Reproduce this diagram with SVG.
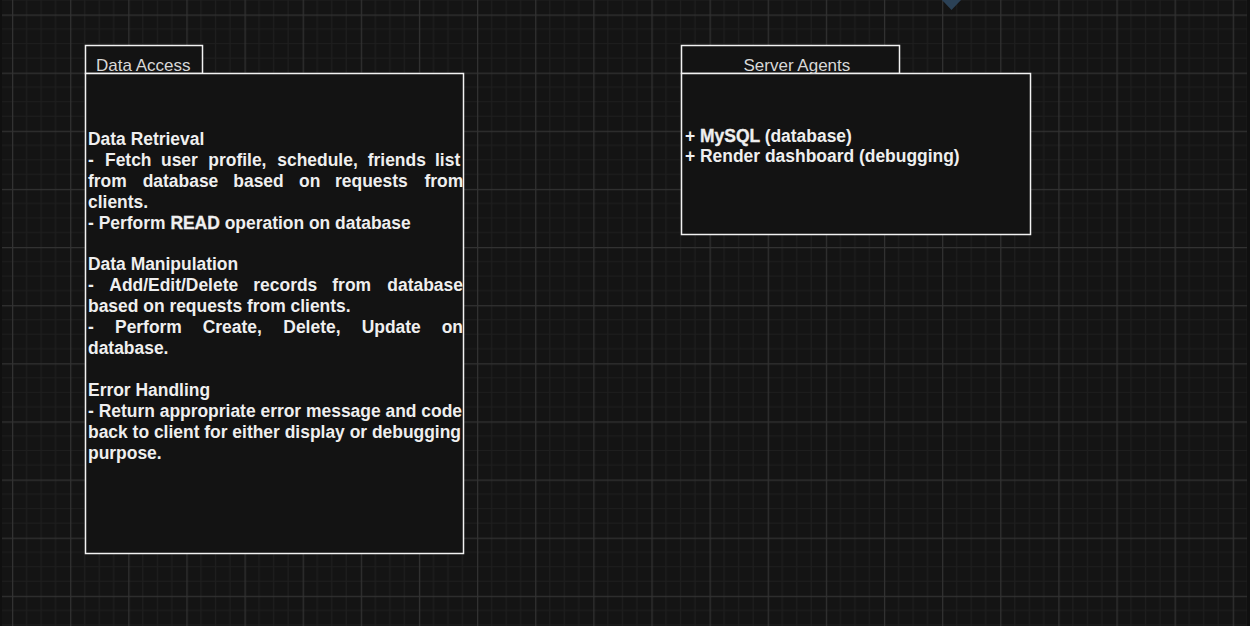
<svg xmlns="http://www.w3.org/2000/svg" width="1250" height="626" viewBox="0 0 1250 626">
<defs>
<pattern id="grid" patternUnits="userSpaceOnUse" x="12" y="14.5" width="58.13" height="58.13">
<rect width="58.13" height="58.13" fill="#141414"/>
<path d="M14.53 0V58.13M29.07 0V58.13M43.6 0V58.13M0 14.53H58.13M0 29.07H58.13M0 43.6H58.13" stroke="#1e1e1e" stroke-width="1.2" fill="none"/>
<path d="M0.6 0V58.13M0 0.6H58.13" stroke="#323232" stroke-width="1.3" fill="none"/>
</pattern>
</defs>
<style>
.box{fill:#131313;stroke:#f2f2f2;stroke-width:1.5}
.title{font-family:"Liberation Sans",Arial,sans-serif;font-size:17px;fill:#d8d8d8}
.body{font-family:"Liberation Sans",Arial,sans-serif;font-size:17.44px;font-weight:bold;fill:#efefef}
.strong{stroke:#efefef;stroke-width:0.35}
</style>
<rect width="1250" height="626" fill="#101010"/>
<rect x="2" y="0" width="1245" height="626" fill="url(#grid)"/>

<g id="connectors">
<polygon points="942,0 961,0 951.5,10" fill="#2b4156"/>
</g>

<g id="node-data-access">
<rect class="box" x="85.5" y="45.5" width="117" height="28"/>
<rect class="box" x="85.5" y="73.5" width="378" height="480"/>
<text class="title" x="96" y="71">Data Access</text>
<text class="body">
<tspan x="88" y="145">Data Retrieval</tspan>
<tspan y="165.9"><tspan x="88">-</tspan><tspan x="105">Fetch</tspan><tspan x="161">user</tspan><tspan x="208.3">profile,</tspan><tspan x="277.3">schedule,</tspan><tspan x="367.7">friends</tspan><tspan x="435">list</tspan></tspan>
<tspan y="186.8"><tspan x="88">from</tspan><tspan x="142.7">database</tspan><tspan x="233.3">based</tspan><tspan x="299">on</tspan><tspan x="335">requests</tspan><tspan x="424.5">from</tspan></tspan>
<tspan x="88" y="207.7">clients.</tspan>
<tspan x="88" y="228.6">- Perform <tspan class="strong">READ</tspan> operation on database</tspan>
<tspan x="88" y="270.4">Data Manipulation</tspan>
<tspan y="291.3"><tspan x="88">-</tspan><tspan x="109.3">Add/Edit/Delete</tspan><tspan x="253.3">records</tspan><tspan x="332.3">from</tspan><tspan x="387.3">database</tspan></tspan>
<tspan x="88" y="312.2">based on requests from clients.</tspan>
<tspan y="333.1"><tspan x="88">-</tspan><tspan x="115">Perform</tspan><tspan x="202.7">Create,</tspan><tspan x="283.3">Delete,</tspan><tspan x="361.7">Update</tspan><tspan x="441.7">on</tspan></tspan>
<tspan x="88" y="354">database.</tspan>
<tspan x="88" y="395.8">Error Handling</tspan>
<tspan x="88" y="416.7">- Return appropriate error message and code</tspan>
<tspan x="88" y="437.6">back to client for either display or debugging</tspan>
<tspan x="88" y="458.5">purpose.</tspan>
</text>
</g>

<g id="node-server-agents">
<rect class="box" x="681.5" y="45.5" width="218" height="28"/>
<rect class="box" x="681.5" y="73.5" width="349" height="161"/>
<text class="title" x="743.5" y="71">Server Agents</text>
<text class="body">
<tspan x="685" y="141.5">+ <tspan class="strong">MySQL</tspan> (database)</tspan>
<tspan x="685" y="162.4">+ Render dashboard (debugging)</tspan>
</text>
</g>
</svg>
